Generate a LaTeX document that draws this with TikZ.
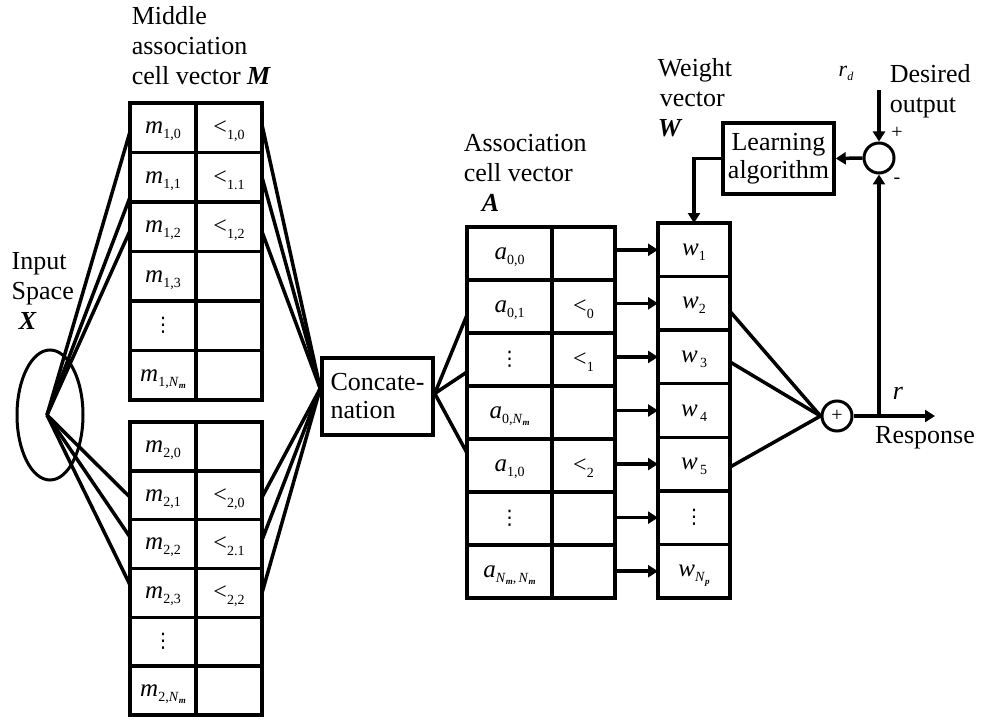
\documentclass[tikz,border=0pt]{standalone}
\usepackage{fontspec}
\setmainfont{Liberation Serif}
\newfontfamily\dvfont{DejaVu Sans}
\usetikzlibrary{arrows.meta,calc,shapes.geometric}
\newcommand\sbx[1]{\raisebox{-5pt}[0pt][0pt]{\fontsize{14}{14}\selectfont #1}}
\newcommand\cv[2]{{\fontsize{25}{25}\selectfont\textit{#1}}\sbx{#2}}
\newcommand\lt[1]{{\fontsize{24}{24}\selectfont <}\sbx{#1}}
\newcommand\Nm{\textit{N}\raisebox{-2.5pt}{\fontsize{9}{9}\selectfont\textbf{\textit{m}}}}
\newcommand\Np{\textit{N}\raisebox{-2.5pt}{\fontsize{9}{9}\selectfont\textbf{\textit{p}}}}
\newcommand\vd{{\dvfont\fontsize{20}{20}\selectfont ⋮}}
\begin{document}
\begin{tikzpicture}[x=1pt,y=-1pt,line width=3.5pt,
  font=\fontsize{26}{30}\selectfont,
  cell/.style={draw,inner sep=0pt,outer sep=0pt},
  mcell/.style={cell,minimum width=66pt,minimum height=49.5pt},
  mcellb/.style={cell,minimum width=66pt,minimum height=48.83pt},
  alcell/.style={cell,minimum width=85pt,minimum height=53pt},
  arcell/.style={cell,minimum width=63pt,minimum height=53pt},
  wcell/.style={cell,minimum width=72pt,minimum height=53.57pt},
  arr/.style={-{Triangle[length=10pt,width=12pt]}},
  lbl/.style={align=left,inner sep=0pt,anchor=north west}]
\useasboundingbox (0,0) rectangle (985,722);

% labels
\node[lbl] (lm) at (130,5) {Middle\\association\\cell vector \textbf{\textit{M}}};
\node[lbl] (lx) at (10,251) {Input\\Space\\\hspace*{7pt}\textbf{\textit{X}}};
\node[lbl] (la) at (462,133) {Association\\cell vector\\\hspace*{18pt}\textbf{\textit{A}}};
\node[lbl] (lw) at (656,57) {Weight\\\hspace*{2pt}vector\\\textbf{\textit{W}}};
\node[lbl] (ld) at (888,63) {Desired\\output};

% input space
\node[draw,ellipse,minimum width=66pt,minimum height=130pt,inner sep=0pt,line width=3pt] (X) at (50,415) {};
\coordinate (hub) at (47,415);

% M top
\foreach \i/\l/\r in {0/{\cv{m}{1,0}}/{\lt{1,0}},1/{\cv{m}{1,1}}/{\lt{1.1}},2/{\cv{m}{1,2}}/{\lt{1,2}},3/{\cv{m}{1,3}}/{},4/{\vd}/{},5/{\cv{m}{1,\Nm}}/{}}{
  \node[mcell] (tl\i) at (163,{127.75+49.5*\i}) {\l};
  \node[mcell] (tr\i) at (229,{127.75+49.5*\i}) {\r};
}
% M bottom
\foreach \i/\l/\r in {0/{\cv{m}{2,0}}/{},1/{\cv{m}{2,1}}/{\lt{2,0}},2/{\cv{m}{2,2}}/{\lt{2.1}},3/{\cv{m}{2,3}}/{\lt{2,2}},4/{\vd}/{},5/{\cv{m}{2,\Nm}}/{}}{
  \node[mcellb] (bl\i) at (163,{446.4+48.83*\i}) {\l};
  \node[mcellb] (br\i) at (229,{446.4+48.83*\i}) {\r};
}

% concatenation
\node[draw,minimum width=111pt,minimum height=77pt,align=left,inner sep=0pt,
  font=\fontsize{26}{28}\selectfont] (cc) at (377.5,396.5) {Concate-\\nation};

% A
\foreach \i/\l/\r in {0/{\cv{a}{0,0}}/{},1/{\cv{a}{0,1}}/{\lt{0}},2/{\vd}/{\lt{1}},3/{\cv{a}{0,\Nm}}/{},4/{\cv{a}{1,0}}/{\lt{2}},5/{\vd}/{},6/{\cv{a}{\Nm,\,\Nm}}/{}}{
  \node[alcell] (al\i) at (509.5,{253.5+53*\i}) {\l};
  \node[arcell] (ar\i) at (583.5,{253.5+53*\i}) {\r};
}

% W
\foreach \i/\l in {0/{\cv{w}{1}},1/{\cv{w}{2}},2/{\cv{w}{\,3}},3/{\cv{w}{\,4}},4/{\cv{w}{\,5}},5/{\vd},6/{\cv{w}{\Np}}}{
  \node[wcell] (w\i) at (694,{249.8+53.57*\i}) {\l};
}

% summation, comparator, learning
\node[draw,circle,minimum size=30pt,inner sep=0pt,line width=3pt] (sum) at (837,416) {\fontsize{20}{20}\selectfont +};
\node[draw,circle,minimum size=30pt,inner sep=0pt,line width=3pt] (cmp) at (879,158) {};
\node[draw,minimum width=111pt,minimum height=71pt,align=center,inner sep=0pt,
  font=\fontsize{26}{28}\selectfont] (learn) at (778.5,158.5) {Learning\\algorithm};
\coordinate (out) at (935,416);
\coordinate (rdin) at (879,90);
\coordinate (brp) at (879,416);

\node (rd) at (846,73) {\fontsize{22}{22}\selectfont\textit{r}\raisebox{-4pt}{\fontsize{12}{12}\selectfont\textit{d}}};
\node (pl) at (897,133) {\fontsize{20}{20}\selectfont +};
\node (mi) at (897,181) {\fontsize{20}{20}\selectfont -};
\node (rl) at (898,393) {\textit{r}};
\node (resp) at (925,438) {Response};

% connectors: input space to M
\draw (hub) -- ($(tl0.west)+(0,4)$);
\draw (hub) -- ($(tl1.west)+(0,20)$);
\draw (hub) -- ($(tl2.west)+(0,4)$);
\draw (hub) -- ($(bl1.west)+(0,2)$);
\draw (hub) -- ($(bl2.west)+(0,-7)$);
\draw (hub) -- ($(bl3.west)+(0,-8)$);
% M to concatenation
\coordinate (ccin) at ($(cc.west)+(0,-8)$);
\draw ($(tr0.east)+(0,-3)$) -- (ccin);
\draw (tr1.east) -- (ccin);
\draw ($(tr2.east)+(0,5)$) -- (ccin);
\draw ($(br1.east)+(0,2)$) -- (ccin);
\draw ($(br2.east)+(0,-4)$) -- (ccin);
\draw (br3.east) -- (ccin);
% concatenation to A
\coordinate (ccout) at ($(cc.east)+(0,-3)$);
\draw (ccout) -- ($(al1.west)+(0,8.5)$);
\draw (ccout) -- ($(al2.west)+(0,12.5)$);
\draw (ccout) -- ($(al4.west)+(0,-12.5)$);
% A to W
\foreach \k in {0,...,6}{\draw[arr] (ar\k.east |- w\k.west) -- (w\k.west);}
% W to sum
\draw ($(w1.east)+(0,8)$) -- (sum.west);
\draw ($(w2.east)+(0,5)$) -- (sum.west);
\draw ($(w4.east)+(0,3)$) -- (sum.west);
% output and feedback
\draw[arr] (sum.east) -- (out);
\draw[arr] (brp) -- (cmp.south);
\draw[arr] (rdin) -- (cmp.north);
\draw[arr] (cmp.west) -- (learn.east);
\draw[arr] (learn.west) -| (w0.north);
\end{tikzpicture}
\end{document}
